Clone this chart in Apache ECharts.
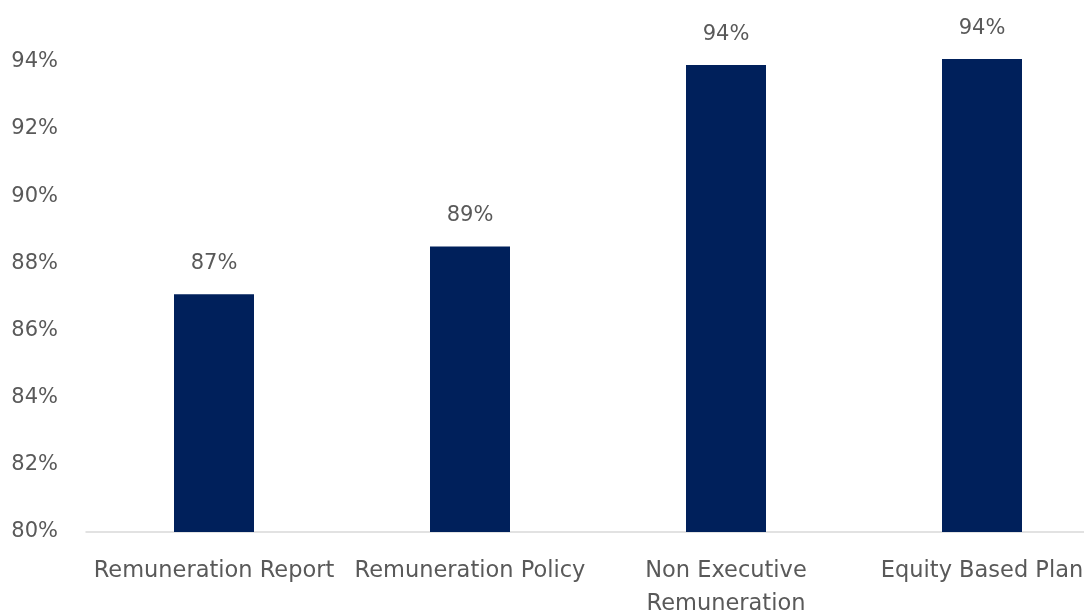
<!DOCTYPE html>
<html>
<head>
<meta charset="utf-8">
<script src="https://cdn.jsdelivr.net/npm/echarts@6/dist/echarts.min.js"></script>
<style>
  html, body { margin: 0; padding: 0; background: #fff; }
  #chart { width: 1084px; height: 612px; }
</style>
</head>
<body>
<div id="chart"></div>
<script>
// Approval rates by resolution type
const categories = ['Remuneration Report', 'Remuneration Policy', 'Non Executive\nRemuneration', 'Equity Based Plan'];
const approval = [87.08, 88.5, 93.9, 94.08];
const yTicks = { min: 80, max: 94, step: 2 };

const textColor = '#595959';
const fontFamily = '"DejaVu Sans", "Noto Sans", sans-serif';

const chart = echarts.init(document.getElementById('chart'));
chart.setOption({
  animation: false,
  grid: { left: 86, right: -26, top: 55, bottom: 80, containLabel: false, outerBoundsMode: 'none' },
  xAxis: {
    type: 'category',
    data: categories,
    axisLine: { lineStyle: { color: '#d9d9d9', width: 1.5 } },
    axisTick: { show: false },
    axisLabel: {
      color: textColor, fontFamily, fontSize: 22.5, margin: 23, lineHeight: 33, interval: 0
    }
  },
  yAxis: {
    type: 'value',
    min: yTicks.min,
    // a little headroom so the tallest bar is not clipped; the extra end tick is hidden
    max: yTicks.max + 0.2,
    interval: yTicks.step,
    axisLine: { show: false },
    axisTick: { show: false },
    splitLine: { show: false },
    axisLabel: {
      color: textColor, fontFamily, fontSize: 21, margin: 28, showMaxLabel: false,
      formatter: v => (v % yTicks.step === 0 ? v + '%' : '')
    }
  },
  series: [{
    type: 'bar',
    data: approval,
    barWidth: 80,
    itemStyle: { color: '#00205b' },
    label: {
      show: true, position: 'top', distance: 20,
      color: textColor, fontFamily, fontSize: 21,
      formatter: p => Math.round(p.value) + '%'
    }
  }]
});
</script>
</body>
</html>
